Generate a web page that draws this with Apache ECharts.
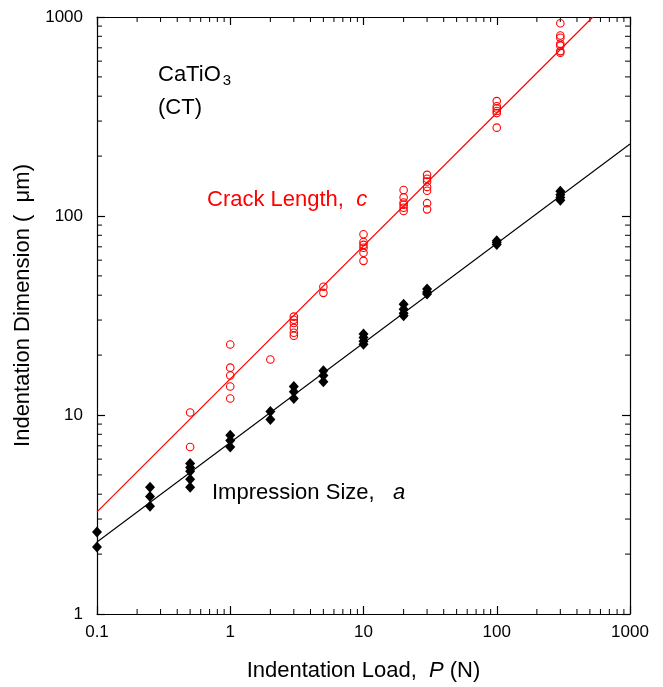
<!DOCTYPE html>
<html><head><meta charset="utf-8">
<script src="https://cdn.jsdelivr.net/npm/echarts@6/dist/echarts.min.js"></script>
<style>html,body{margin:0;padding:0;background:#fff}#c{width:663px;height:687px}</style>
</head><body><div id="c"></div>
<script>
// Impression size a (black diamonds)
const aLoads = [0.1, 0.25, 0.5, 1, 2, 3, 5, 10, 20, 30, 100, 300];
const aValues = [
  [2.58, 2.17],
  [4.33, 3.9, 3.48],
  [5.71, 5.45, 5.21, 4.75, 4.33],
  [7.9, 7.45, 6.9],
  [10.4, 9.5],
  [13.9, 13.1, 12.1],
  [16.7, 15.8, 14.7],
  [25.5, 24.5, 23.5, 22.7],
  [36, 34, 32.5, 31.5],
  [43, 41.5, 40.5],
  [75, 73.5, 72],
  [133, 128, 124, 120]
];
// Crack length c (red open circles)
const cLoads = [0.5, 1, 2, 3, 5, 10, 20, 30, 100, 300];
const cValues = [
  [10.3, 6.9],
  [22.6, 17.3, 15.8, 13.9, 12.1],
  [19.0],
  [31.2, 30.1, 29.0, 27.4, 25.9, 25.0],
  [44.1, 41.1],
  [81, 74, 71.6, 69.2, 65.3, 59.5],
  [135, 124, 117, 114, 110, 106],
  [161, 154, 149, 140, 134, 116, 108],
  [378, 356, 347, 337, 329, 278],
  [931, 807, 787, 734, 718, 674, 662]
];
// Fitted lines
const aFitLoads = [0.1, 1000];
const aFitValues = [2.3, 230];
const cFitLoads = [0.1, 527];
const cFitValues = [3.26, 1000];
// Axis ticks
const xTickLabels = ['0.1', '1', '10', '100', '1000'];
const yTickLabels = ['1', '10', '100', '1000'];
const xDecades = [0.1, 1, 10, 100];
const yDecades = [1, 10, 100];
const minorMult = [2, 3, 4, 5, 6, 7, 8, 9];

function flatten(loads, vals) {
  const out = [];
  loads.forEach((p, i) => vals[i].forEach(v => out.push([p, v])));
  return out;
}
const minorData = [];
xDecades.forEach(d => minorMult.forEach(m => minorData.push([+(d * m).toPrecision(3), 1, 0])));
yDecades.forEach(d => minorMult.forEach(m => minorData.push([1, +(d * m).toPrecision(3), 1])));

const FONT = 'Liberation Sans, Arial, sans-serif';
const chart = echarts.init(document.getElementById('c'), null, {renderer: 'canvas'});
const axisCommon = {
  type: 'log', logBase: 10,
  axisLine: {show: true, onZero: false, lineStyle: {color: '#000', width: 1.2}},
  axisTick: {show: true, inside: true, length: 8, lineStyle: {color: '#000', width: 1.2}},
  minorTick: {show: false},
  splitLine: {show: false}
};
const option = {
  animation: false,
  backgroundColor: '#fff',
  grid: {left: 97, right: 33, top: 17, bottom: 72, containLabel: false},
  xAxis: [
    Object.assign({}, axisCommon, {
      position: 'bottom', min: 0.1, max: 1000,
      axisLabel: {color: '#000', fontSize: 17, fontFamily: FONT, margin: 10,
        formatter: v => xTickLabels.find(t => Math.abs(parseFloat(t) - v) / v < 1e-6) || ''},
      name: 'Indentation Load,  {i|P} (N)', nameLocation: 'middle', nameGap: 46,
      nameTextStyle: {color: '#000', fontSize: 22, fontFamily: FONT,
        rich: {i: {fontStyle: 'italic', fontSize: 22, fontFamily: FONT, color: '#000'}}}
    }),
    Object.assign({}, axisCommon, {position: 'top', min: 0.1, max: 1000, axisLabel: {show: false}})
  ],
  yAxis: [
    Object.assign({}, axisCommon, {
      position: 'left', min: 1, max: 1000,
      axisLabel: {color: '#000', fontSize: 17, fontFamily: FONT, margin: 14,
        formatter: v => yTickLabels.find(t => Math.abs(parseFloat(t) - v) / v < 1e-6) || ''},
      name: 'Indentation Dimension (  μm)', nameLocation: 'middle', nameGap: 63,
      nameTextStyle: {color: '#000', fontSize: 22, fontFamily: FONT, padding: [0, 0, 0, 20]}
    }),
    Object.assign({}, axisCommon, {position: 'right', min: 1, max: 1000, axisLabel: {show: false}})
  ],
  graphic: [
    {type: 'text', left: 158, top: 64, style: {
      text: 'CaTiO{s|3}', font: '22px ' + FONT, fill: '#000',
      rich: {s: {fontSize: 15, fontFamily: FONT, fill: '#000', padding: [12, 0, 0, 2]}}}},
    {type: 'text', left: 158, top: 97, style: {text: '(CT)', font: '22px ' + FONT, fill: '#000'}},
    {type: 'text', left: 207, top: 189, style: {
      text: 'Crack Length,  {i|c}', font: '22px ' + FONT, fill: '#ff0000',
      rich: {i: {fontStyle: 'italic', fontSize: 22, fontFamily: FONT, fill: '#ff0000'}}}},
    {type: 'text', left: 212, top: 482, style: {
      text: 'Impression Size,   {i|a}', font: '22px ' + FONT, fill: '#000',
      rich: {i: {fontStyle: 'italic', fontSize: 22, fontFamily: FONT, fill: '#000'}}}}
  ],
  series: [
    {type: 'line', data: aFitLoads.map((p, i) => [p, aFitValues[i]]), showSymbol: false, symbol: 'none',
      lineStyle: {color: '#000', width: 1.1}, clip: true, silent: true},
    {type: 'line', data: cFitLoads.map((p, i) => [p, cFitValues[i]]), showSymbol: false, symbol: 'none',
      lineStyle: {color: '#ff0000', width: 1.2}, clip: true, silent: true},
    {type: 'scatter', data: flatten(aLoads, aValues), symbol: 'diamond', symbolSize: [10, 11],
      itemStyle: {color: '#000', opacity: 1}, clip: false, silent: true},
    {type: 'scatter', data: flatten(cLoads, cValues), symbol: 'circle', symbolSize: 7.5,
      itemStyle: {color: 'rgba(255,255,255,0)', borderColor: '#ff0000', borderWidth: 1.1, opacity: 1}, clip: false, silent: true},
    {type: 'custom', data: minorData, silent: true, clip: false,
      encode: {x: 0, y: 1},
      renderItem: function (params, api) {
        const cs = params.coordSys;
        const kind = api.value(2);
        const L = 5;
        const st = {stroke: '#000', lineWidth: 1};
        if (kind === 0) {
          const x = api.coord([api.value(0), 1])[0];
          const yb = cs.y + cs.height, yt = cs.y;
          return {type: 'group', children: [
            {type: 'line', shape: {x1: x, y1: yb, x2: x, y2: yb - L}, style: st},
            {type: 'line', shape: {x1: x, y1: yt, x2: x, y2: yt + L}, style: st}
          ]};
        } else {
          const y = api.coord([1, api.value(1)])[1];
          const xl = cs.x, xr = cs.x + cs.width;
          return {type: 'group', children: [
            {type: 'line', shape: {x1: xl, y1: y, x2: xl + L, y2: y}, style: st},
            {type: 'line', shape: {x1: xr, y1: y, x2: xr - L, y2: y}, style: st}
          ]};
        }
      }
    }
  ]
};
chart.setOption(option);
</script></body></html>
